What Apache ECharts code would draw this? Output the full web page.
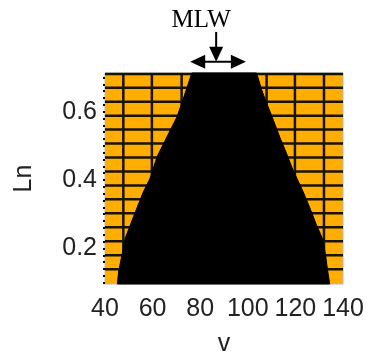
<!DOCTYPE html>
<html>
<head>
<meta charset="utf-8">
<script src="https://cdn.jsdelivr.net/npm/echarts@6/dist/echarts.min.js"></script>
<style>
  html, body { margin: 0; padding: 0; background: #fff; }
  #main { width: 368px; height: 356px; }
</style>
</head>
<body>
<div id="main"></div>
<script>
var chartDom = document.getElementById('main');
var myChart = echarts.init(chartDom);

// axis ranges and ticks
const vMin = 40, vMax = 140;
const lnMin = 0.096, lnMax = 0.713;
const xLabels = [40, 60, 80, 100, 120, 140];
const yLabels = [0.2, 0.4, 0.6];
const yTicks = [0.1, 0.12, 0.14, 0.16, 0.18, 0.2, 0.22, 0.24, 0.26, 0.28, 0.3, 0.32, 0.34, 0.36,
  0.38, 0.4, 0.42, 0.44, 0.46, 0.48, 0.5, 0.52, 0.54, 0.56, 0.58, 0.6, 0.62, 0.64, 0.66, 0.68, 0.7];

// mesh lines of the orange region
const meshV = [47.7, 59.7, 72.2, 84, 96, 107.9, 119.8, 132];
const meshLn = [0.139, 0.180, 0.221, 0.262, 0.303, 0.344, 0.384, 0.425, 0.466, 0.507, 0.548,
  0.588, 0.629, 0.670, 0.710];

// black region: left and right boundary (bottom -> top)
const leftLn = [0.096, 0.131, 0.180, 0.230, 0.268, 0.318, 0.365, 0.406, 0.467, 0.526, 0.584, 0.625, 0.713];
const leftV = [45.2, 45.7, 47.1, 48.5, 50.6, 53.4, 56.1, 59.0, 61.8, 66.0, 70.2, 72.3, 76.5];
const rightLn = [0.096, 0.142, 0.180, 0.230, 0.268, 0.318, 0.365, 0.429, 0.479, 0.526, 0.576, 0.625, 0.664, 0.713];
const rightV = [134.4, 133.4, 132.7, 131.3, 128.9, 126.1, 123.3, 119.0, 116.2, 113.4, 110.7, 107.9, 105.8, 103.7];

// MLW annotation (data units)
const mlwSpan = [75.8, 99.2];
const mlwArrowLn = 0.746;
const mlwPointerV = 86.7;
const mlwPointerTopLn = 0.833;
const mlwTextPos = [80.4, 0.866];

const orange = '#FFAE00';
const meshColor = '#1a1200';
const labelFont = { fontFamily: 'Liberation Sans', fontSize: 25, color: '#222' };

var option = {
  animation: false,
  grid: {
    left: 105, right: 25, top: 73, bottom: 72,
    outerBoundsMode: 'none',
    containLabel: false,
    show: true,
    backgroundColor: orange,
    borderColor: '#b8b8b8',
    borderWidth: 1
  },
  xAxis: {
    type: 'value',
    min: vMin, max: vMax,
    name: 'v',
    nameLocation: 'middle',
    nameGap: 48,
    nameTextStyle: labelFont,
    axisLine: { show: false },
    axisTick: { show: false },
    splitLine: { show: false },
    axisLabel: Object.assign({ customValues: xLabels, margin: 13 }, labelFont)
  },
  yAxis: {
    type: 'value',
    min: lnMin, max: lnMax,
    name: 'Ln',
    nameLocation: 'middle',
    nameGap: 68,
    nameTextStyle: labelFont,
    axisLine: { show: false },
    axisTick: {
      show: true,
      customValues: yTicks,
      length: 2,
      lineStyle: { color: '#000', width: 2 }
    },
    splitLine: { show: false },
    axisLabel: Object.assign({
      customValues: yLabels,
      margin: 8,
      formatter: function (v) { return v.toFixed(1); }
    }, labelFont)
  },
  series: [
    {
      type: 'custom',
      name: 'meshV',
      z: 1,
      silent: true,
      data: meshV.map(v => [v]),
      renderItem: function (params, api) {
        const a = api.coord([api.value(0), lnMin]);
        const b = api.coord([api.value(0), lnMax]);
        return {
          type: 'line',
          shape: { x1: a[0], y1: a[1], x2: b[0], y2: b[1] },
          style: { stroke: meshColor, lineWidth: 2.5 }
        };
      }
    },
    {
      type: 'custom',
      name: 'meshLn',
      z: 1,
      silent: true,
      data: meshLn.map(l => [l]),
      renderItem: function (params, api) {
        const a = api.coord([vMin, api.value(0)]);
        const b = api.coord([vMax, api.value(0)]);
        return {
          type: 'line',
          shape: { x1: a[0], y1: a[1], x2: b[0], y2: b[1] },
          style: { stroke: meshColor, lineWidth: 2.5 }
        };
      }
    },
    {
      type: 'custom',
      name: 'region',
      z: 2,
      silent: true,
      data: [[0]],
      renderItem: function (params, api) {
        const pts = [];
        leftV.forEach((v, i) => pts.push(api.coord([v, leftLn[i]])));
        for (let i = rightV.length - 1; i >= 0; i--) {
          pts.push(api.coord([rightV[i], rightLn[i]]));
        }
        return {
          type: 'polygon',
          shape: { points: pts },
          style: { fill: '#000', stroke: '#000', lineWidth: 1 }
        };
      }
    }
  ]
};

myChart.setOption(option);

// annotation drawn from data positions
function px(v, l) {
  return myChart.convertToPixel({ gridIndex: 0 }, [v, l]);
}
const pL = px(mlwSpan[0], mlwArrowLn);
const pR = px(mlwSpan[1], mlwArrowLn);
const pTop = px(mlwPointerV, mlwPointerTopLn);
const pTip = px(mlwPointerV, mlwArrowLn);
const pText = px(mlwTextPos[0], mlwTextPos[1]);
const head = 15, half = 7;

myChart.setOption({
  graphic: [
    {
      type: 'line',
      shape: { x1: pL[0] + 4, y1: pL[1], x2: pR[0] - 4, y2: pR[1] },
      style: { stroke: '#000', lineWidth: 2 }
    },
    {
      type: 'polygon',
      shape: { points: [[pL[0], pL[1]], [pL[0] + head, pL[1] - half], [pL[0] + head, pL[1] + half]] },
      style: { fill: '#000' }
    },
    {
      type: 'polygon',
      shape: { points: [[pR[0], pR[1]], [pR[0] - head, pR[1] - half], [pR[0] - head, pR[1] + half]] },
      style: { fill: '#000' }
    },
    {
      type: 'line',
      shape: { x1: pTop[0], y1: pTop[1], x2: pTip[0], y2: pTip[1] - 4 },
      style: { stroke: '#000', lineWidth: 2 }
    },
    {
      type: 'polygon',
      shape: { points: [[pTip[0], pTip[1]], [pTip[0] - half, pTip[1] - head], [pTip[0] + half, pTip[1] - head]] },
      style: { fill: '#000' }
    },
    {
      type: 'text',
      x: pText[0], y: pText[1],
      style: {
        text: 'MLW',
        fontFamily: 'Liberation Serif',
        fontSize: 25,
        fill: '#000',
        align: 'center',
        verticalAlign: 'middle'
      }
    }
  ]
});
</script>
</body>
</html>
